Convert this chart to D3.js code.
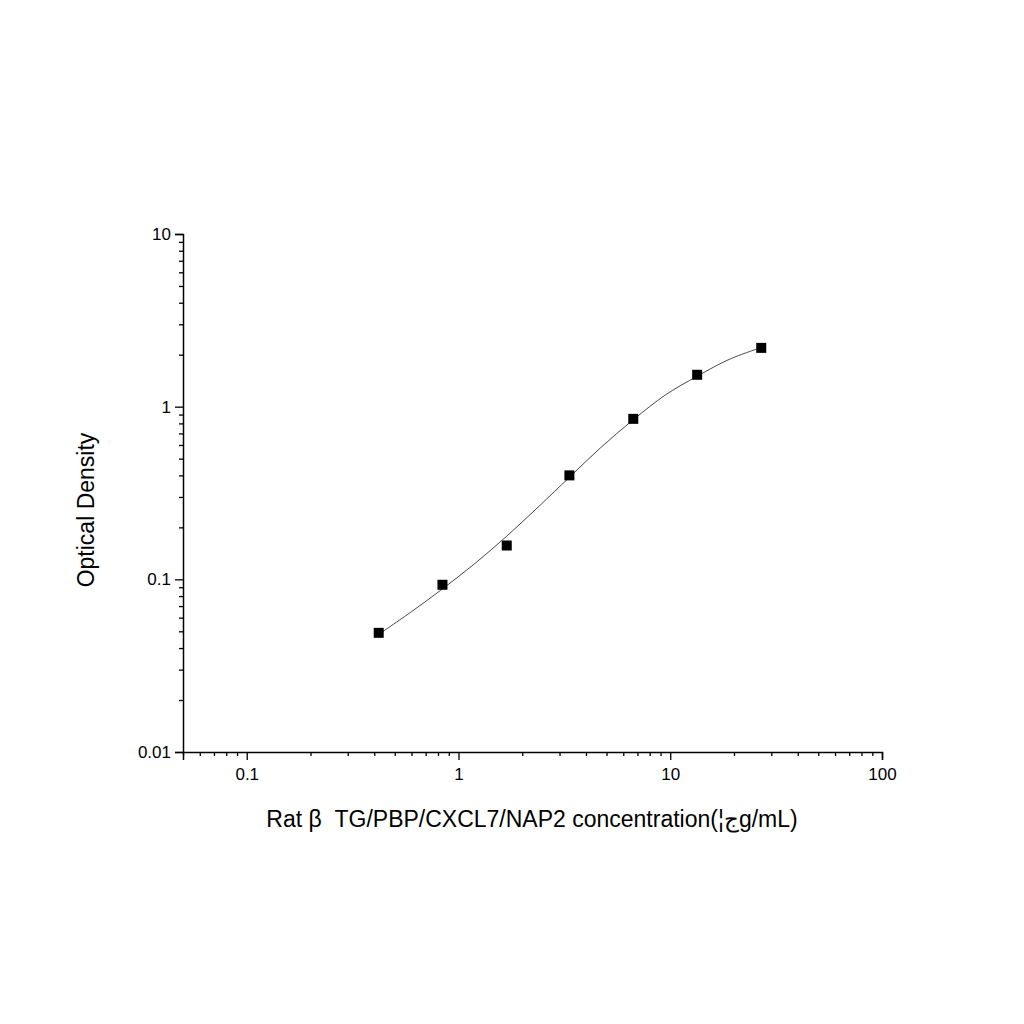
<!DOCTYPE html><html><head><meta charset="utf-8"><script src="https://cdn.jsdelivr.net/npm/d3@7"></script>
<style>body{margin:0;background:#fff}</style></head><body><svg id="c" width="1024" height="1024"></svg>
<script>
const concentration=[0.42,0.84,1.69,3.34,6.69,13.4,26.9];
const od=[0.049,0.093,0.157,0.40,0.85,1.53,2.19];
const curveX=[0.42,0.6,0.84,1.2,1.69,2.4,3.34,4.7,6.69,9.5,13.4,19,26.9];
const curveY=[0.048,0.065,0.088,0.124,0.178,0.265,0.39,0.58,0.84,1.17,1.5,1.88,2.2];
const xTicks=[0.1,1,10,100];
const yTicks=[0.01,0.1,1,10];
const svg=d3.select("#c");
const x=d3.scaleLog().domain([0.05,100]).range([183,882]);
const y=d3.scaleLog().domain([0.01,10]).range([752,234]);
const font="Arial, 'Liberation Sans', sans-serif";
function minors(dom){const r=[];for(let e=-3;e<3;e++)for(let m=2;m<=9;m++){const v=m*Math.pow(10,e);if(v>=dom[0]&&v<=dom[1])r.push(v);}return r;}
const gx=svg.append("g").attr("transform","translate(0,752)");
gx.call(d3.axisBottom(x).tickValues(xTicks).tickFormat(d3.format("~g")).tickSize(8).tickPadding(8));
gx.append("g").call(d3.axisBottom(x).tickValues(minors([0.05,100])).tickFormat("").tickSize(4)).select(".domain").remove();
const gy=svg.append("g").attr("transform","translate(183,0)");
gy.call(d3.axisLeft(y).tickValues(yTicks).tickFormat(d3.format("~g")).tickSize(8).tickPadding(4));
gy.append("g").call(d3.axisLeft(y).tickValues(minors([0.01,10])).tickFormat("").tickSize(4)).select(".domain").remove();
svg.selectAll(".domain").attr("stroke","#000").attr("stroke-width",1.5);
svg.selectAll(".tick line").attr("stroke","#000").attr("stroke-width",1.3);
svg.selectAll(".tick text").attr("font-family",font).attr("font-size",17).attr("fill","#000");
const line=d3.line().x((d,i)=>x(curveX[i])).y(d=>y(d)).curve(d3.curveCatmullRom);
svg.append("path").attr("d",line(curveY)).attr("fill","none").attr("stroke","#333").attr("stroke-width",0.9);
svg.selectAll("rect.p").data(od).enter().append("rect").attr("class","p")
 .attr("x",(d,i)=>x(concentration[i])-5).attr("y",d=>y(d)-5).attr("width",10).attr("height",10).attr("fill","#000");
svg.append("text").attr("x",532).attr("y",827).attr("text-anchor","middle").attr("font-family",font).attr("font-size",23)
 .attr("xml:space","preserve").style("white-space","pre")
 .text("Rat β  TG/PBP/CXCL7/NAP2 concentration(¦جg/mL)");
svg.append("text").attr("transform","translate(94,510) rotate(-90)").attr("text-anchor","middle").attr("font-family",font).attr("font-size",23).text("Optical Density");
</script></body></html>
